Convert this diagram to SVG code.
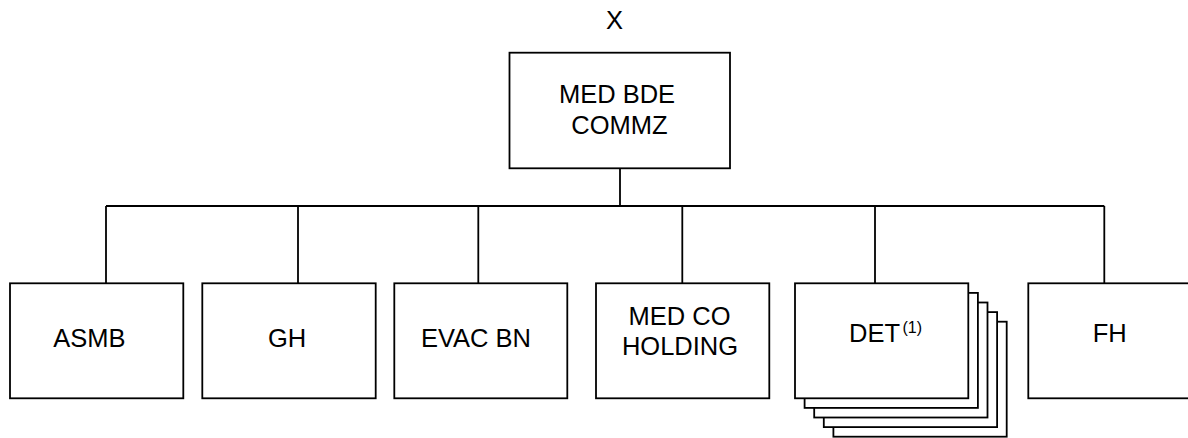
<svg xmlns="http://www.w3.org/2000/svg" width="1188" height="438" viewBox="0 0 1188 438">
<style>
.box{fill:#fff;stroke:#000;stroke-width:1.8}
.ln{fill:none;stroke:#000;stroke-width:1.8}
.t{font-family:"Liberation Sans",Arial,sans-serif;font-size:25.5px;fill:#000;text-anchor:middle}
.sup{font-family:"Liberation Sans",Arial,sans-serif;font-size:16px;fill:#000}
</style>
<rect width="1188" height="438" fill="#fff"/>
<g id="connectors">
<path class="ln" d="M620 168.3V206M106 206H1104.3M106 206V283.3M298 206V283.3M478.3 206V283.3M682.3 206V283.3M875 206V283.3M1104.3 206V283.3"/>
</g>
<text class="t" x="614.5" y="29.3">X</text>
<g id="med-bde">
<rect class="box" x="509.5" y="52.7" width="220.5" height="115.6"/>
<text class="t" x="617" y="103.3">MED BDE</text>
<text class="t" x="619.5" y="134">COMMZ</text>
</g>
<g id="asmb">
<rect class="box" x="10" y="283.3" width="173.3" height="115"/>
<text class="t" x="89.3" y="347.3">ASMB</text>
</g>
<g id="gh">
<rect class="box" x="202.3" y="283.3" width="173.4" height="115"/>
<text class="t" x="287" y="347.3">GH</text>
</g>
<g id="evac-bn">
<rect class="box" x="394.3" y="283.3" width="173" height="115"/>
<text class="t" x="476" y="346.7">EVAC BN</text>
</g>
<g id="med-co-holding">
<rect class="box" x="596" y="283.3" width="173.3" height="115"/>
<text class="t" x="679.5" y="325">MED CO</text>
<text class="t" x="680" y="355">HOLDING</text>
</g>
<g id="det">
<rect class="box" x="833.4" y="321.7" width="173.3" height="115"/>
<rect class="box" x="823.8" y="312.1" width="173.3" height="115"/>
<rect class="box" x="814.2" y="302.5" width="173.3" height="115"/>
<rect class="box" x="804.6" y="292.9" width="173.3" height="115"/>
<rect class="box" x="795" y="283.3" width="173.3" height="115"/>
<text class="t" x="874.5" y="341.7">DET</text>
<text class="sup" x="902.5" y="332.5">(1)</text>
</g>
<g id="fh">
<rect class="box" x="1028.3" y="283.3" width="173.3" height="115"/>
<text class="t" x="1109.7" y="341.7">FH</text>
</g>
</svg>
